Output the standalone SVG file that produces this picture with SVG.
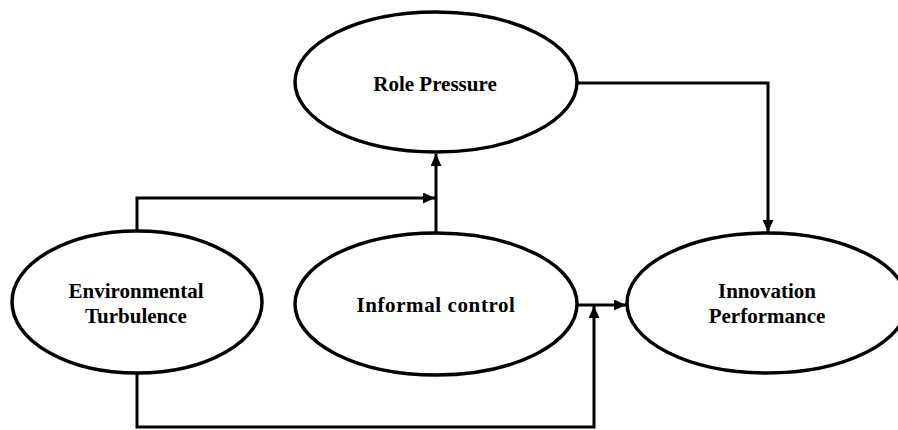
<svg xmlns="http://www.w3.org/2000/svg" width="898" height="430" viewBox="0 0 898 430">
<style>
.node ellipse{fill:#fff;stroke:#000;stroke-width:3.5}
.node text{font-family:"Liberation Serif","Times New Roman",serif;font-weight:bold;font-size:21px;fill:#000;text-anchor:middle}
.conn path{fill:none;stroke:#000;stroke-width:3}
</style>
<defs>
<marker id="ah" viewBox="0 0 12 11" refX="12" refY="5.5" markerWidth="12" markerHeight="11" markerUnits="userSpaceOnUse" orient="auto">
<path d="M0,0 L12,5.5 L0,11 Z" fill="#000"/>
</marker>
</defs>
<rect width="898" height="430" fill="#fff"/>
<g class="conn">
<path d="M137,232 V198 H435" marker-end="url(#ah)"/>
<path d="M436,233 V154" marker-end="url(#ah)"/>
<path d="M577,83 H768 V232" marker-end="url(#ah)"/>
<path d="M577,305 H626" marker-end="url(#ah)"/>
<path d="M137,373 V427 H594 V306" marker-end="url(#ah)"/>
</g>
<g id="role-pressure" class="node">
<ellipse cx="436" cy="82" rx="141" ry="70"/>
<text x="435" y="91">Role Pressure</text>
</g>
<g id="environmental-turbulence" class="node">
<ellipse cx="137" cy="302" rx="125" ry="71"/>
<text x="136" y="298">Environmental</text>
<text x="136" y="323">Turbulence</text>
</g>
<g id="informal-control" class="node">
<ellipse cx="436" cy="304" rx="141" ry="71"/>
<text x="436" y="312" letter-spacing="0.6">Informal control</text>
</g>
<g id="innovation-performance" class="node">
<ellipse cx="767" cy="303" rx="140" ry="70"/>
<text x="767" y="298">Innovation</text>
<text x="767" y="323">Performance</text>
</g>
</svg>
